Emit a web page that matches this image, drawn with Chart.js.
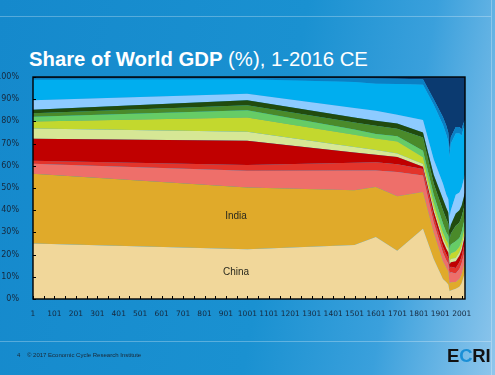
<!DOCTYPE html>
<html>
<head>
<meta charset="utf-8">
<script src="https://cdn.jsdelivr.net/npm/chart.js@4.4.1/dist/chart.umd.min.js"></script>
<style>
  html, body { margin: 0; padding: 0; }
  body {
    width: 495px; height: 375px; overflow: hidden; position: relative;
    background: linear-gradient(100deg, #1589cc 0%, #1a91d1 55%, #3aa0dc 78%, #8ec6ec 100%);
    font-family: "Liberation Sans", Arial, sans-serif;
  }
  #chart { position: absolute; left: 0; top: 0; }
  .rule { position: absolute; background: rgba(255,255,255,0.28); }
  #title { position: absolute; left: 29px; top: 48px; color: #fff; font-size: 20.3px; white-space: nowrap; }
  #title b { font-weight: bold; }
  #foot { position: absolute; left: 17px; top: 352px; font-size: 6px; color: #1b2733; white-space: nowrap; }
  #logo { position: absolute; left: 447px; top: 345px; font-size: 18.5px; font-weight: 900; color: #111; letter-spacing: -0.2px; }
  #logo span { color: #1a8fd6; }
</style>
</head>
<body>
<div class="rule" style="left:0;top:16px;width:491px;height:1px"></div>
<div class="rule" style="left:491px;top:0;width:1px;height:375px"></div>
<div class="rule" style="left:0;top:341px;width:491px;height:1px"></div>
<div id="title"><b>Share of World GDP</b> (%), 1-2016 CE</div>
<canvas id="chart" width="495" height="375"></canvas>
<div id="foot">4&nbsp;&nbsp;&nbsp;&nbsp;© 2017 Economic Cycle Research Institute</div>
<div id="logo">E<span>C</span>RI</div>
<script>
// Data (share of world GDP, %), bottom band first
const years = [1, 1000, 1500, 1600, 1700, 1820, 1870, 1913, 1929, 1938, 1944, 1950, 1973, 1990, 2000, 2008, 2016];

const china     = [25.0, 22.4, 24.3, 27.9, 21.7, 31.7, 18.0, 9.0, 7.5, 6.5, 3.5, 3.8, 4.6, 5.5, 7.0, 9.5, 12.0];
const india     = [31.4, 27.8, 24.7, 22.6, 24.6, 16.5, 12.0, 8.0, 6.5, 6.0, 3.5, 3.7, 3.1, 3.5, 4.0, 4.5, 5.0];
const band3     = [4.5, 7.6, 8.9, 7.4, 10.9, 7.4, 4.5, 4.0, 3.5, 3.5, 4.5, 4.5, 3.8, 4.5, 5.0, 5.0, 5.0];
const band4     = [1.4, 2.6, 3.5, 3.7, 3.5, 3.0, 2.5, 2.5, 2.5, 2.5, 2.0, 2.5, 2.5, 3.0, 3.0, 3.5, 3.5];
const band5     = [9.9, 10.9, 4.6, 3.4, 3.3, 1.0, 2.5, 2.5, 2.5, 2.5, 2.0, 2.0, 3.0, 3.0, 3.0, 3.0, 3.0];
const band6     = [4.6, 4.0, 2.5, 2.1, 1.5, 1.2, 1.5, 1.5, 1.5, 1.5, 1.5, 1.5, 1.5, 1.5, 1.5, 1.5, 1.5];
const band7     = [3.2, 6.5, 5.5, 5.2, 5.5, 3.0, 2.5, 2.5, 2.5, 2.5, 2.0, 2.5, 3.0, 2.5, 2.5, 2.5, 2.5];
const band8     = [2.1, 3.2, 2.3, 2.0, 2.3, 3.0, 3.5, 4.0, 3.5, 3.5, 3.5, 4.0, 4.5, 4.0, 4.0, 4.0, 4.0];
const band9     = [1.6, 2.3, 3.2, 3.7, 3.4, 6.0, 5.0, 6.0, 6.0, 5.5, 4.5, 5.0, 7.0, 7.0, 7.0, 6.5, 6.5];
const band10    = [1.5, 2.2, 2.3, 2.3, 2.3, 2.2, 4.0, 5.0, 5.0, 5.0, 4.0, 4.0, 5.5, 5.5, 5.0, 5.0, 5.0];
const band11    = [4.3, 3.0, 4.2, 4.5, 4.0, 5.6, 7.0, 7.0, 6.0, 6.0, 6.0, 6.5, 8.5, 8.0, 8.0, 8.0, 8.0];
const band12    = [9.3, 6.5, 11.8, 12.2, 13.8, 15.9, 24.5, 26.5, 27.0, 26.0, 27.0, 30.0, 27.5, 26.5, 23.5, 23.5, 22.0];
const band13    = [0.6, 0.5, 1.6, 2.3, 2.4, 2.5, 2.5, 3.5, 4.0, 4.0, 3.0, 3.0, 3.0, 3.0, 3.0, 2.5, 2.5];
const band14    = [0.6, 0.5, 0.6, 0.7, 0.8, 1.0, 10.0, 18.0, 22.0, 25.0, 33.0, 27.0, 22.5, 22.5, 23.5, 21.0, 19.5];

const seriesNames = ["China", "India", "Band 3", "Band 4", "Band 5", "Band 6", "Band 7",
  "Band 8", "Band 9", "Band 10", "Band 11", "Band 12", "Band 13", "Band 14"];
const seriesValues = [china, india, band3, band4, band5, band6, band7,
  band8, band9, band10, band11, band12, band13, band14];
const colors = ["#f1d79a", "#e0aa2a", "#ee6f6a", "#e3342b", "#c00000", "#d6e795", "#c3d82e",
  "#66cc66", "#4a8a2a", "#214b0e", "#8dcbff", "#00aeef", "#0a80c4", "#0b3a70"];

// Tick positions on the year axis (labels only on the x01 years)
const yearTicks = [1, 51, 101, 151, 201, 251, 301, 351, 401, 451, 501, 551, 601, 651, 701, 751,
  801, 851, 901, 951, 1001, 1051, 1101, 1151, 1201, 1251, 1301, 1351, 1401, 1451, 1501, 1551,
  1601, 1651, 1701, 1751, 1801, 1851, 1901, 1951, 2001];
const yearLabels = ["1", "101", "201", "301", "401", "501", "601", "701", "801", "901", "1001",
  "1101", "1201", "1301", "1401", "1501", "1601", "1701", "1801", "1901", "2001"];

const bandLabels = [
  { text: "India", year: 948, pct: 37.5 },
  { text: "China", year: 948, pct: 12.2 },
];

const datasets = seriesValues.map((vals, k) => ({
  label: seriesNames[k],
  data: vals.map((v, i) => ({ x: years[i], y: v })),
  backgroundColor: colors[k],
  borderColor: colors[k],
  borderWidth: 0,
  pointRadius: 0,
  tension: 0,
  fill: k === 0 ? "origin" : "-1",
}));

const decor = {
  id: "decor",
  afterDatasetsDraw(chart) {
    const { ctx, chartArea: a, scales } = chart;
    const x = scales.x, y = scales.y;
    ctx.save();
    ctx.strokeStyle = "#000";
    ctx.lineWidth = 1.4;
    ctx.strokeRect(a.left, a.top, a.right - a.left, a.bottom - a.top);
    ctx.lineWidth = 1;
    ctx.beginPath();
    for (let v = 0; v <= 100; v += 10) {
      const py = Math.round(y.getPixelForValue(v)) + 0.5;
      ctx.moveTo(a.left, py);
      ctx.lineTo(a.left + 3, py);
    }
    yearTicks.forEach((t) => {
      const px = Math.round(x.getPixelForValue(t)) + 0.5;
      ctx.moveTo(px, a.bottom);
      ctx.lineTo(px, a.bottom - 3);
    });
    ctx.stroke();
    ctx.fillStyle = "#2a2a1e";
    ctx.font = "10px 'Liberation Sans', Arial, sans-serif";
    ctx.textAlign = "center";
    ctx.textBaseline = "middle";
    bandLabels.forEach((l) => {
      ctx.fillText(l.text, x.getPixelForValue(l.year), y.getPixelForValue(l.pct));
    });
    ctx.restore();
  },
};

new Chart(document.getElementById("chart"), {
  type: "line",
  data: { datasets },
  plugins: [decor],
  options: {
    responsive: false,
    animation: false,
    layout: { padding: { left: 0, top: 77, right: 30, bottom: 0 } },
    plugins: { legend: { display: false }, tooltip: { enabled: false } },
    scales: {
      x: {
        type: "linear",
        min: 1,
        max: 2016,
        afterFit: (s) => { s.height = 76; },
        afterBuildTicks: (s) => { s.ticks = yearTicks.map((v) => ({ value: v })); },
        grid: { display: false },
        border: { display: false },
        ticks: {
          autoSkip: false,
          maxRotation: 0,
          padding: 3,
          color: "#16283d",
          font: { family: "DejaVu Sans", size: 7.5 },
          callback: (v) => ((v - 1) % 100 === 0 ? yearLabels[(v - 1) / 100] : ""),
        },
      },
      y: {
        stacked: true,
        min: 0,
        max: 100,
        afterFit: (s) => { s.width = 33; },
        grid: { display: false },
        border: { display: false },
        ticks: {
          stepSize: 10,
          padding: 6,
          color: "#16283d",
          font: { family: "DejaVu Sans", size: 8 },
          callback: (v) => v + "%",
        },
      },
    },
  },
});
</script>
</body>
</html>
